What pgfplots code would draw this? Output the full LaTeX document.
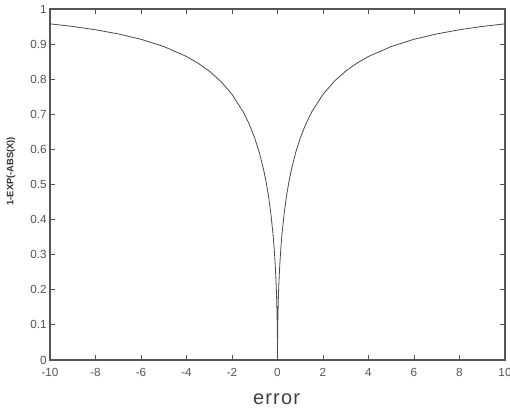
\documentclass[border=0pt]{standalone}
\usepackage{fontspec}
\setmainfont{Liberation Sans}
\usepackage{pgfplots}
\pgfplotsset{compat=1.18}
\definecolor{axisgray}{HTML}{555555}
\definecolor{curvegray}{HTML}{4a4a4a}

\begin{document}
\begin{tikzpicture}
% frame that fixes the page to 510x409 px (1 px = 0.75pt)
\path[use as bounding box] (0,0) rectangle (382.5pt,306.75pt);
\begin{axis}[
    at={(37.5pt,36.75pt)}, anchor=south west,
    width=341.25pt, height=263.25pt, scale only axis,
    xmin=-10, xmax=10, ymin=0, ymax=1,
    xtick={-10,-8,...,10},
    ytick={0,0.1,...,1},
    yticklabels={0,0.1,0.2,0.3,0.4,0.5,0.6,0.7,0.8,0.9,1},
    /pgf/number format/assume math mode=true,
    tick align=inside, tick pos=both,
    major tick length=4pt,
    axis line style={axisgray, line width=0.8pt},
    every tick/.style={axisgray, line width=0.6pt},
    tick label style={font=\fontsize{8.8}{10}\selectfont, text=axisgray},
    xticklabel style={yshift=-2.5pt},
    yticklabel style={xshift=1pt},
    xlabel={\addfontfeatures{LetterSpace=6}error},
    xlabel style={font=\fontsize{15}{17}\selectfont, text=black!75,
        at={(axis description cs:0.498,-0.111)}, anchor=center},
    ylabel={1-EXP(-ABS(X))},
    ylabel style={font=\fontsize{7}{8}\selectfont\bfseries, text=black!80,
        at={(axis description cs:-0.086,0.538)}, anchor=center},
]
\addplot[curvegray, line width=0.6pt] coordinates {
(-10,0.9577) (-9,0.9502) (-8,0.9409) (-7,0.9290) (-6,0.9137) (-5,0.8931)
(-4,0.8647) (-3.5,0.8460) (-3,0.8231) (-2.5,0.7943) (-2,0.7569) (-1.5,0.7062)
(-1.25,0.6731) (-1,0.6321) (-0.8,0.5912) (-0.6,0.5391) (-0.5,0.5069) (-0.4,0.4687)
(-0.3,0.4217) (-0.2,0.3606) (-0.15,0.3211) (-0.1,0.2711) (-0.06,0.2172) (-0.04,0.1813)
(-0.02,0.1319) (-0.01,0.0952) (-0.0025,0.0488) (0,0)
(0.0025,0.0488) (0.01,0.0952) (0.02,0.1319) (0.04,0.1813) (0.06,0.2172) (0.1,0.2711)
(0.15,0.3211) (0.2,0.3606) (0.3,0.4217) (0.4,0.4687) (0.5,0.5069) (0.6,0.5391)
(0.8,0.5912) (1,0.6321) (1.25,0.6731) (1.5,0.7062) (2,0.7569) (2.5,0.7943)
(3,0.8231) (3.5,0.8460) (4,0.8647) (5,0.8931) (6,0.9137) (7,0.9290)
(8,0.9409) (9,0.9502) (10,0.9577)
};
\end{axis}
\end{tikzpicture}
\end{document}
